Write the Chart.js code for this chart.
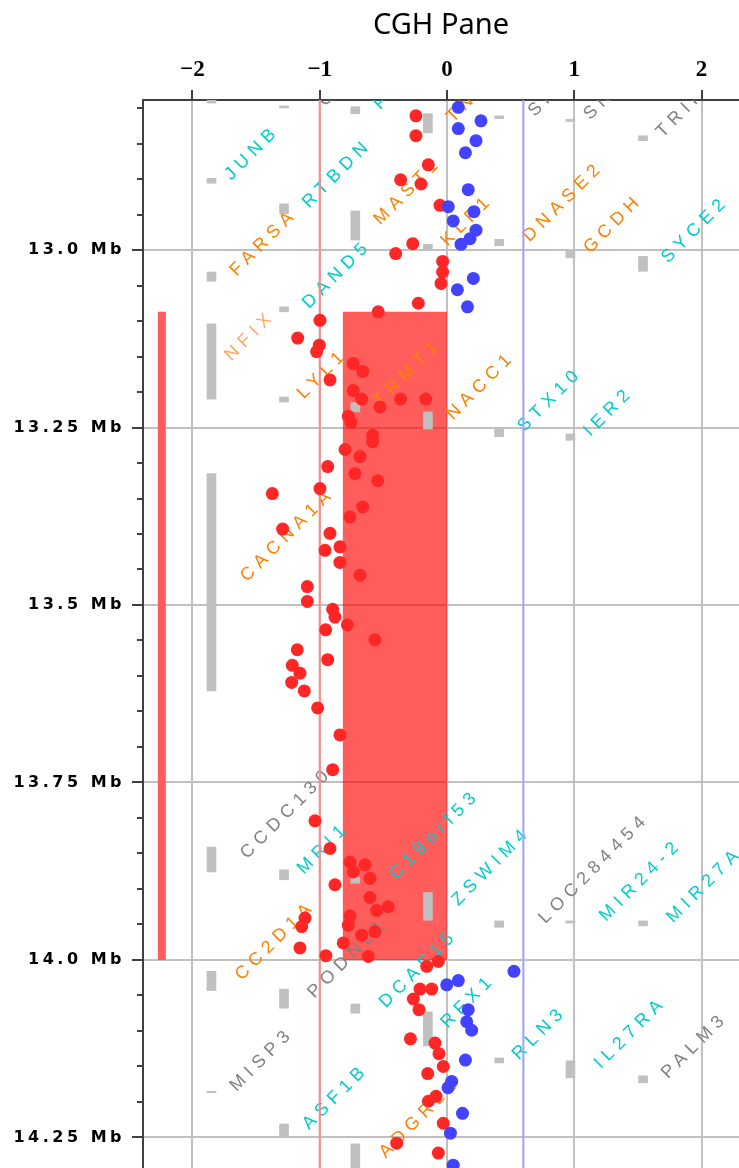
<!DOCTYPE html>
<html><head><meta charset="utf-8">
<script src="https://cdn.jsdelivr.net/npm/chart.js@4.4.1/dist/chart.umd.min.js"></script>
<style>html,body{margin:0;padding:0;background:#fff;overflow:hidden}</style>
</head><body>
<canvas id="c" width="739" height="1168"></canvas>
<script>
// ---------- data ----------
const xTickValues = [-2, -1, 0, 1, 2];
const yMajorValues = [13.0, 13.25, 13.5, 13.75, 14.0, 14.25];
const xRange = [-2.388, 2.294];
const yRange = [12.7887, 14.293];

const redX = [-0.244,-0.244,-0.147,-0.364,-0.204,-0.055,-0.269,-0.403,-0.034,-0.034,-0.047,-0.225,-0.540,-0.998,-1.173,-1.003,-1.024,-0.736,-0.662,-0.919,-0.736,-0.670,-0.526,-0.364,-0.167,-0.775,-0.754,-0.584,-0.584,-0.801,-0.683,-0.937,-0.723,-0.544,-1.372,-0.998,-0.662,-0.762,-0.919,-1.291,-0.958,-0.841,-0.841,-0.683,-1.097,-1.097,-0.898,-0.880,-0.783,-0.953,-0.566,-1.176,-0.937,-1.215,-1.155,-1.220,-1.121,-1.016,-0.841,-0.898,-1.037,-0.919,-0.762,-0.644,-0.736,-0.605,-0.880,-0.605,-0.461,-0.552,-0.762,-0.775,-1.115,-1.141,-0.670,-0.566,-0.815,-1.155,-0.951,-0.618,-0.068,-0.159,-0.212,-0.120,-0.264,-0.220,-0.287,-0.094,-0.063,-0.029,-0.151,-0.086,-0.146,-0.029,-0.395,-0.068];
const redY = [12.811,12.839,12.880,12.901,12.907,12.937,12.991,13.005,13.016,13.031,13.047,13.075,13.087,13.099,13.124,13.134,13.143,13.160,13.171,13.183,13.198,13.210,13.221,13.210,13.210,13.234,13.243,13.261,13.270,13.281,13.291,13.305,13.315,13.325,13.343,13.336,13.362,13.376,13.399,13.393,13.423,13.418,13.440,13.458,13.474,13.495,13.506,13.517,13.528,13.535,13.549,13.563,13.577,13.585,13.596,13.609,13.621,13.645,13.683,13.732,13.804,13.843,13.862,13.866,13.876,13.885,13.894,13.912,13.925,13.930,13.938,13.951,13.941,13.953,13.965,13.960,13.976,13.983,13.994,13.995,14.002,14.009,14.041,14.041,14.055,14.070,14.111,14.117,14.132,14.150,14.160,14.192,14.199,14.230,14.258,14.272];

const blueX = [0.089,0.267,0.089,0.228,0.145,0.167,0.010,0.212,0.049,0.228,0.181,0.110,0.207,0.082,0.161,0.526,0.089,-0.002,0.167,0.155,0.194,0.145,0.037,0.008,0.122,0.027,0.049];
const blueY = [12.799,12.818,12.829,12.846,12.863,12.915,12.939,12.946,12.959,12.972,12.984,12.992,13.040,13.056,13.080,14.016,14.029,14.035,14.070,14.087,14.099,14.141,14.171,14.180,14.216,14.244,14.289];

// segmented region (log ratio / start / end)
const segmentValue = [-0.82, 0];
const segmentStart = 13.087;
const segmentEnd = 14.0;
const segmentMarkerX = -2.24;
const thresholdLow = -1;
const thresholdHigh = 0.6;

// genes: name, column, start, end, class (o=orange, l=light orange, c=cyan, g=gray)
const geneNames = ["DHPS","C19orf57","FBXW9","TNPO2","SNORD41","SNHG","TRIR","JUNB","RTBDN","MAST1","KLF1","DNASE2","GCDH","SYCE2","FARSA","DAND5","NFIX","LYL1","TRMT1","NACC1","STX10","IER2","CACNA1A","CCDC130","MRI1","C19orf53","ZSWIM4","LOC284454","MIR24-2","MIR27A","CC2D1A","PODNL1","DCAF15","RFX1","RLN3","IL27RA","PALM3","MISP3","ASF1B","ADGRL1"];
const geneCol = [-1.85,-1.28,-0.72,-0.15,0.41,0.97,1.54,-1.85,-1.28,-0.72,-0.15,0.41,0.97,1.54,-1.85,-1.28,-1.85,-1.28,-0.72,-0.15,0.41,0.97,-1.85,-1.85,-1.28,-0.72,-0.15,0.41,0.97,1.54,-1.85,-1.28,-0.72,-0.15,0.41,0.97,1.54,-1.85,-1.28,-0.72];
const geneStart = [12.780,12.797,12.798,12.808,12.811,12.816,12.839,12.899,12.935,12.945,12.992,12.985,13.000,13.009,13.031,13.080,13.104,13.207,13.215,13.228,13.251,13.259,13.315,13.841,13.873,13.883,13.905,13.945,13.945,13.945,14.016,14.041,14.062,14.073,14.138,14.142,14.163,14.185,14.231,14.259];
const geneEnd = [12.793,12.800,12.808,12.835,12.815,12.819,12.846,12.906,12.949,12.986,12.999,12.994,13.011,13.030,13.044,13.087,13.210,13.214,13.228,13.252,13.263,13.268,13.621,13.876,13.887,13.892,13.944,13.954,13.948,13.952,14.043,14.068,14.075,14.121,14.145,14.166,14.173,14.187,14.249,14.300];
const geneClass = ["o","g","c","o","g","g","g","c","c","o","o","o","o","c","o","c","l","o","o","o","c","c","o","g","c","c","c","g","c","c","o","g","c","c","c","c","g","g","c","o"];

// ---------- styles ----------
const classColor = {o:'#ff8000', l:'#ffa860', c:'#00cccc', g:'#808080'};
const AXIS = '#404040', GRID = '#c0c0c0';
const isMultiple = (v, step) => Math.abs(v/step - Math.round(v/step)) < 1e-6;

const GENE_DS = 4;
const geneLabels = {
  id: 'geneLabels',
  afterDatasetDraw(chart, args) {
    if (args.index !== GENE_DS) return;
    const {ctx, chartArea: a, scales: {x, y}} = chart;
    ctx.save();
    ctx.beginPath(); ctx.rect(a.left, a.top, a.right - a.left, a.bottom - a.top); ctx.clip();
    ctx.font = '18px "Liberation Sans", Arial, sans-serif';
    ctx.letterSpacing = '5.7px';
    ctx.textAlign = 'left'; ctx.textBaseline = 'alphabetic';
    geneNames.forEach((n, i) => {
      const px = x.getPixelForValue(geneCol[i]) - 1.5 + 5.3 * n.length;
      const py = y.getPixelForValue((geneStart[i] + geneEnd[i]) / 2);
      ctx.save();
      ctx.translate(px, py); ctx.rotate(-Math.PI / 4);
      ctx.fillStyle = classColor[geneClass[i]];
      ctx.fillText(n, 0, 0);
      ctx.restore();
    });
    ctx.restore();
  }
};
const yLabelSpacing = {
  id: 'yLabelSpacing',
  beforeDraw(chart) {
    const s = chart.scales.y;
    if (s && !s.__spaced) {
      const orig = s.drawLabels;
      s.drawLabels = function(area) { const c = this.ctx; c.save(); c.letterSpacing = '3.5px'; orig.call(this, area); c.restore(); };
      s.__spaced = true;
    }
  }
};
const noPad = s => { s.paddingLeft = 0; s.paddingRight = 0; s.paddingTop = 0; s.paddingBottom = 0; };

const line = (pts, color, width, order, extra) => Object.assign({
  type: 'line', data: pts, borderColor: color, borderWidth: width, pointRadius: 0,
  fill: false, order, borderCapStyle: 'butt', tension: 0, clip: 0
}, extra || {});

new Chart(document.getElementById('c'), {
  type: 'scatter',
  data: {
    datasets: [
      { label: 'loss', data: redX.map((v, i) => ({x: v, y: redY[i]})), backgroundColor: '#ff2626', pointRadius: 6.5, borderWidth: 0, order: 1, clip: 0 },
      { label: 'normal', data: blueX.map((v, i) => ({x: v, y: blueY[i]})), backgroundColor: '#4242ff', pointRadius: 6.5, borderWidth: 0, order: 0, clip: 0 },
      line([{x: thresholdLow, y: yRange[0]}, {x: thresholdLow, y: yRange[1]}], '#ff8a8a', 2, 3),
      line([{x: thresholdHigh, y: yRange[0]}, {x: thresholdHigh, y: yRange[1]}], '#a0a0ff', 2, 3),
      { type: 'bar', label: 'genes', data: geneCol.map((c, i) => ({x: c, y: [geneStart[i], geneEnd[i]]})),
        backgroundColor: GRID, borderWidth: 0, barThickness: 9, order: 4, grouped: false, clip: 0 },
      line([{x: segmentMarkerX, y: segmentStart}, {x: segmentMarkerX, y: segmentEnd}], '#ff5c5c', 8, 5),
      line([{x: segmentValue[0], y: segmentStart}, {x: segmentValue[1], y: segmentStart}], 'rgba(0,0,0,0)', 1, 6,
        { fill: '+1', backgroundColor: 'rgba(255,0,0,0.64)' }),
      line([{x: segmentValue[0], y: segmentEnd}, {x: segmentValue[1], y: segmentEnd}], 'rgba(0,0,0,0)', 1, 7)
    ]
  },
  options: {
    responsive: false, animation: false, events: [],
    layout: { padding: 0, autoPadding: false },
    plugins: { legend: { display: false }, tooltip: { enabled: false }, title: { display: false } },
    scales: {
      x: {
        type: 'linear', position: 'top', min: xRange[0], max: xRange[1], offset: false,
        afterBuildTicks: s => { s.ticks = s.ticks.filter(t => xTickValues.some(v => Math.abs(v - t.value) < 1e-6)); },
        afterFit: s => { s.height = 100; noPad(s); },
        ticks: { stepSize: 1, includeBounds: false, autoSkip: false, maxRotation: 0, minRotation: 0, padding: 6, color: '#000',
          font: { family: '"Liberation Serif", serif', size: 23, weight: 'bold' },
          callback: v => (v < 0 ? '\u2212' + Math.abs(v) : String(v)) },
        grid: { color: GRID, lineWidth: 2, tickColor: AXIS, tickLength: 10, tickWidth: 2, offset: false },
        border: { color: AXIS, width: 2 },
        title: { display: true, text: 'CGH Pane', color: '#000', padding: { top: 8, bottom: 0 },
          font: { family: '"Noto Sans", sans-serif', size: 29 } }
      },
      y: {
        type: 'linear', position: 'left', reverse: true, min: yRange[0], max: yRange[1],
        afterBuildTicks: s => { s.ticks = s.ticks.filter(t => isMultiple(t.value, 0.05)); },
        afterFit: s => { s.width = 143; noPad(s); },
        ticks: { stepSize: 0.05, includeBounds: false, autoSkip: false, padding: 7, color: '#000',
          font: { family: '"DejaVu Sans", sans-serif', size: 16, weight: 'bold' },
          callback: v => {
            if (!yMajorValues.some(m => Math.abs(m - v) < 1e-6)) return '';
            let s = String(Math.round(v * 100) / 100); if (s.indexOf('.') < 0) s += '.0';
            return s + ' Mb';
          } },
        grid: {
          color: c => (c.tick && isMultiple(c.tick.value, 0.25)) ? GRID : 'rgba(0,0,0,0)',
          lineWidth: 2, tickColor: AXIS, tickLength: 11, tickWidth: 2,
          tickBorderDash: c => (c.tick && isMultiple(c.tick.value, 0.25)) ? [] : [0, 5, 30]
        },
        border: { color: AXIS, width: 2 }
      }
    }
  },
  plugins: [geneLabels, yLabelSpacing]
});
</script>
</body></html>
